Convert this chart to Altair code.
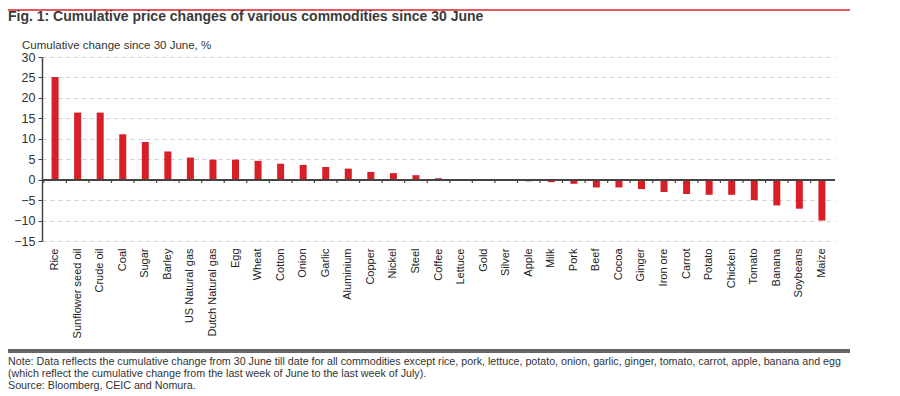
import altair as alt
import pandas as pd

categories = ["Rice", "Sunflower seed oil", "Crude oil", "Coal", "Sugar", "Barley",
              "US Natural gas", "Dutch Natural gas", "Egg", "Wheat", "Cotton", "Onion",
              "Garlic", "Aluminium", "Copper", "Nickel", "Steel", "Coffee", "Lettuce",
              "Gold", "Silver", "Apple", "Milk", "Pork", "Beef", "Cocoa", "Ginger",
              "Iron ore", "Carrot", "Potato", "Chicken", "Tomato", "Banana", "Soybeans", "Maize"]
values = [25.1, 16.4, 16.4, 11.1, 9.2, 6.9, 5.4, 4.9, 4.9, 4.6, 3.9, 3.6,
          3.1, 2.7, 1.9, 1.6, 1.1, 0.35, 0.1,
          0.0, 0.0, -0.4, -0.6, -1.0, -1.9, -1.9, -2.3,
          -3.0, -3.5, -3.7, -3.7, -5.0, -6.3, -7.1, -10.0]
y_ticks = [-15, -10, -5, 0, 5, 10, 15, 20, 25, 30]

title_text = "Fig. 1: Cumulative price changes of various commodities since 30 June"
y_title = "Cumulative change since 30 June, %"
footer_lines = [
    "Note: Data reflects the cumulative change from 30 June till date for all commodities except rice, pork, lettuce, potato, onion, garlic, ginger, tomato, carrot, apple, banana and egg",
    "(which reflect the cumulative change from the last week of June to the last week of July).",
    "Source: Bloomberg, CEIC and Nomura.",
]

df = pd.DataFrame({"cat": categories, "val": values})

FONT = "Liberation Sans"
W, H = 793, 184

xscale = alt.Scale(domain=categories, paddingInner=0, paddingOuter=0.08)
yscale = alt.Scale(domain=[-15, 30], nice=False, zero=False)

xaxis = alt.Axis(title=None, labelAngle=-90, domain=False, ticks=False, grid=False,
                 labelFontSize=11, labelColor="#222", labelFont=FONT,
                 labelPadding=7, labelOverlap=False)
yaxis = alt.Axis(title=None, values=y_ticks, grid=True, gridDash=[4, 4],
                 gridColor="#cfcfcf", gridWidth=1, domainColor="#444",
                 domainWidth=1.5, tickColor="#444", tickSize=4,
                 labelFontSize=12.5, labelColor="#333", labelFont=FONT,
                 labelPadding=3, labelOverlap=False, labelBound=False)

bars = alt.Chart(df).mark_bar(color="#d61f26", size=7).encode(
    x=alt.X("cat:N", sort=categories, scale=xscale, axis=xaxis),
    y=alt.Y("val:Q", scale=yscale, axis=yaxis),
)

zero = alt.Chart(df).mark_rule(color="#444", strokeWidth=1.3).encode(
    y=alt.Y(datum=0, scale=yscale, axis=yaxis), x=alt.value(0), x2=alt.value(W))

ticks = alt.Chart(df).mark_rule(color="#444", strokeWidth=1.2).encode(
    x=alt.X("cat:N", sort=categories, scale=xscale, axis=xaxis, bandPosition=0),
    y=alt.Y(datum=0, scale=yscale, axis=yaxis), y2=alt.datum(-0.8))


def text_layer(txt, x, y, **kw):
    return alt.Chart(pd.DataFrame({"t": [txt]})).mark_text(
        align="left", baseline="middle", font=FONT, **kw).encode(
        text="t:N", x=alt.value(x), y=alt.value(y))


red_line = alt.Chart(df).mark_rule(color="#e8575a", strokeWidth=2).encode(
    x=alt.value(-34), x2=alt.value(808), y=alt.value(-47))

sep_line = alt.Chart(df).mark_rule(color="#666", strokeWidth=3).encode(
    x=alt.value(-34), x2=alt.value(808), y=alt.value(294))

title = text_layer(title_text, -34, -40, fontSize=14, fontWeight="bold", color="#3a3a3a")
ytitle = text_layer(y_title, -20, -11, fontSize=11.5, color="#333")
f1 = text_layer(footer_lines[0], -34, 305, fontSize=10.7, color="#333")
f2 = text_layer(footer_lines[1], -34, 317, fontSize=10.7, color="#333")
f3 = text_layer(footer_lines[2], -34, 329, fontSize=10.7, color="#333")

chart = alt.layer(bars, zero, ticks, red_line, sep_line, title, ytitle, f1, f2, f3).properties(
    width=W, height=H, autosize="none", background="white",
    padding={"left": 34, "top": 49, "right": 57, "bottom": 155},
).configure_view(stroke=None)

chart.save("out.html", embed_options={"renderer": "svg", "actions": False})
